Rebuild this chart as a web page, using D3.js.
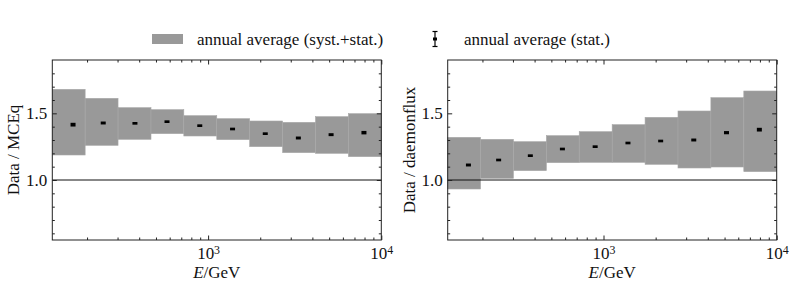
<!DOCTYPE html>
<html>
<head>
<meta charset="utf-8">
<script src="https://cdn.jsdelivr.net/npm/d3@7"></script>
<style>
  body { margin: 0; background: #fff; }
  svg text { font-family: "Liberation Serif", "Times New Roman", serif; fill: #111; }
</style>
</head>
<body>
<div id="chart"></div>
<script>
// bin edges and bin centres in GeV
var binEdges = [126, 195, 302, 468, 724, 1122, 1738, 2692, 4169, 6457, 10000];
var energy = [166, 248, 378, 579, 895, 1384, 2138, 3320, 5130, 7940];

// Data / MCEq
var mceqValue = [1.415, 1.4275, 1.425, 1.4375, 1.4075, 1.3825, 1.3475, 1.315, 1.34, 1.355];
var mceqLow = [1.1875, 1.26, 1.305, 1.3475, 1.33, 1.3025, 1.25, 1.205, 1.2, 1.175];
var mceqHigh = [1.68, 1.6125, 1.5425, 1.5275, 1.4825, 1.46, 1.4425, 1.4325, 1.475, 1.4975];
var mceqStat = [0.014, 0.011, 0.01, 0.01, 0.01, 0.01, 0.01, 0.011, 0.011, 0.013];

// Data / daemonflux
var daemonValue = [1.1125, 1.15, 1.1825, 1.2325, 1.25, 1.2775, 1.2925, 1.30, 1.355, 1.3775];
var daemonLow = [0.9325, 1.0125, 1.07, 1.13, 1.1325, 1.1325, 1.1175, 1.09, 1.0975, 1.0625];
var daemonHigh = [1.32, 1.305, 1.2875, 1.3325, 1.3625, 1.415, 1.47, 1.5175, 1.6175, 1.6675];
var daemonStat = [0.011, 0.01, 0.01, 0.01, 0.01, 0.01, 0.01, 0.011, 0.012, 0.014];

var xMajor = [1000, 10000];
var xMinor = [200, 300, 400, 500, 600, 700, 800, 900, 2000, 3000, 4000, 5000, 6000, 7000, 8000, 9000];
var yMajor = [1.0, 1.5];
var yMinor = [0.6, 0.7, 0.8, 0.9, 1.1, 1.2, 1.3, 1.4, 1.6, 1.7, 1.8];

var legendLabels = ["annual average (syst.+stat.)", "annual average (stat.)"];

var W = 793, H = 287;
var panelW = 329, plotTop = 60, plotBottom = 240;
var fontSize = 17;
var boxColor = "#999999";

var svg = d3.select("#chart").append("svg").attr("width", W).attr("height", H);

function drawPanel(left, yLabel, values, lows, highs, stats) {
  var x = d3.scaleLog().domain([binEdges[0], binEdges[binEdges.length - 1]]).range([left, left + panelW]);
  var y = d3.scaleLinear().domain([0.55, 1.9]).range([plotBottom, plotTop]);
  var g = svg.append("g");

  var rows = values.map(function (v, i) {
    return { v: v, lo: lows[i], hi: highs[i], s: stats[i], x0: binEdges[i], x1: binEdges[i + 1], e: energy[i] };
  });

  // syst+stat boxes
  g.selectAll(".box").data(rows).enter().append("rect")
    .attr("x", function (d) { return x(d.x0); })
    .attr("width", function (d) { return x(d.x1) - x(d.x0); })
    .attr("y", function (d) { return y(d.hi); })
    .attr("height", function (d) { return y(d.lo) - y(d.hi); })
    .attr("fill", boxColor)
    .attr("stroke", "#a8a8a8")
    .attr("stroke-width", 0.6);

  // reference line at 1
  g.append("line")
    .attr("x1", x.range()[0]).attr("x2", x.range()[1])
    .attr("y1", y(1)).attr("y2", y(1))
    .attr("stroke", "#111").attr("stroke-width", 1);

  // stat error bars
  g.selectAll(".stat").data(rows).enter().append("rect")
    .attr("x", function (d) { return x(d.e) - 2.5; })
    .attr("width", 5)
    .attr("y", function (d) { return y(d.v + d.s); })
    .attr("height", function (d) { return y(d.v - d.s) - y(d.v + d.s); })
    .attr("fill", "#000");

  // axes, ticks pointing inward
  var bAxis = g.append("g").attr("transform", "translate(0," + plotBottom + ")")
    .call(d3.axisBottom(x).tickValues(xMajor).tickSize(-4.5).tickPadding(7)
      .tickFormat(function (d) { return ""; }));
  bAxis.selectAll(".tick text").each(function (d) {
    var t = d3.select(this);
    t.append("tspan").text("10");
    t.append("tspan").text(Math.round(Math.log10(d))).attr("font-size", fontSize * 0.7).attr("dy", "-0.45em");
  });
  g.append("g").attr("transform", "translate(0," + plotBottom + ")")
    .call(d3.axisBottom(x).tickValues(xMinor).tickSize(-2.5).tickFormat(""));
  g.append("g").attr("transform", "translate(0," + plotTop + ")")
    .call(d3.axisTop(x).tickValues(xMajor).tickSize(-4.5).tickFormat(""));
  g.append("g").attr("transform", "translate(0," + plotTop + ")")
    .call(d3.axisTop(x).tickValues(xMinor).tickSize(-2.5).tickFormat(""));

  g.append("g").attr("transform", "translate(" + left + ",0)")
    .call(d3.axisLeft(y).tickValues(yMajor).tickSize(-4.5).tickPadding(5).tickFormat(d3.format(".1f")));
  g.append("g").attr("transform", "translate(" + left + ",0)")
    .call(d3.axisLeft(y).tickValues(yMinor).tickSize(-2.5).tickFormat(""));
  g.append("g").attr("transform", "translate(" + (left + panelW) + ",0)")
    .call(d3.axisRight(y).tickValues(yMajor).tickSize(-4.5).tickFormat(""));
  g.append("g").attr("transform", "translate(" + (left + panelW) + ",0)")
    .call(d3.axisRight(y).tickValues(yMinor).tickSize(-2.5).tickFormat(""));

  g.selectAll(".domain").remove();
  g.selectAll(".tick line").attr("stroke", "#222");
  g.selectAll(".tick text").attr("font-size", fontSize).attr("font-family", null).attr("fill", "#111");

  g.append("rect")
    .attr("x", left).attr("y", plotTop)
    .attr("width", panelW).attr("height", plotBottom - plotTop)
    .attr("fill", "none").attr("stroke", "#222").attr("stroke-width", 1);

  // labels
  var xl = g.append("text")
    .attr("x", left + panelW / 2).attr("y", 278)
    .attr("text-anchor", "middle").attr("font-size", fontSize);
  xl.append("tspan").attr("font-style", "italic").text("E");
  xl.append("tspan").text("/GeV");

  g.append("text")
    .attr("transform", "translate(" + (left - 33) + "," + ((plotTop + plotBottom) / 2) + ") rotate(-90)")
    .attr("text-anchor", "middle").attr("font-size", fontSize)
    .text(yLabel);
}

drawPanel(52.3, "Data / MCEq", mceqValue, mceqLow, mceqHigh, mceqStat);
drawPanel(447.7, "Data / daemonflux", daemonValue, daemonLow, daemonHigh, daemonStat);

// legend
var leg = svg.append("g");
leg.append("rect").attr("x", 152).attr("y", 34).attr("width", 31).attr("height", 10).attr("fill", boxColor);
leg.append("text").attr("x", 197).attr("y", 44.5).attr("font-size", fontSize).text(legendLabels[0]);

var ex = 435;
leg.append("line").attr("x1", ex).attr("x2", ex).attr("y1", 31).attr("y2", 47).attr("stroke", "#000").attr("stroke-width", 1.2);
leg.append("line").attr("x1", ex - 2.5).attr("x2", ex + 2.5).attr("y1", 31.5).attr("y2", 31.5).attr("stroke", "#000").attr("stroke-width", 1.2);
leg.append("line").attr("x1", ex - 2.5).attr("x2", ex + 2.5).attr("y1", 46.5).attr("y2", 46.5).attr("stroke", "#000").attr("stroke-width", 1.2);
leg.append("rect").attr("x", ex - 2).attr("y", 37.5).attr("width", 4).attr("height", 3).attr("fill", "#000");
leg.append("text").attr("x", 464).attr("y", 44.5).attr("font-size", fontSize).text(legendLabels[1]);
</script>
</body>
</html>
